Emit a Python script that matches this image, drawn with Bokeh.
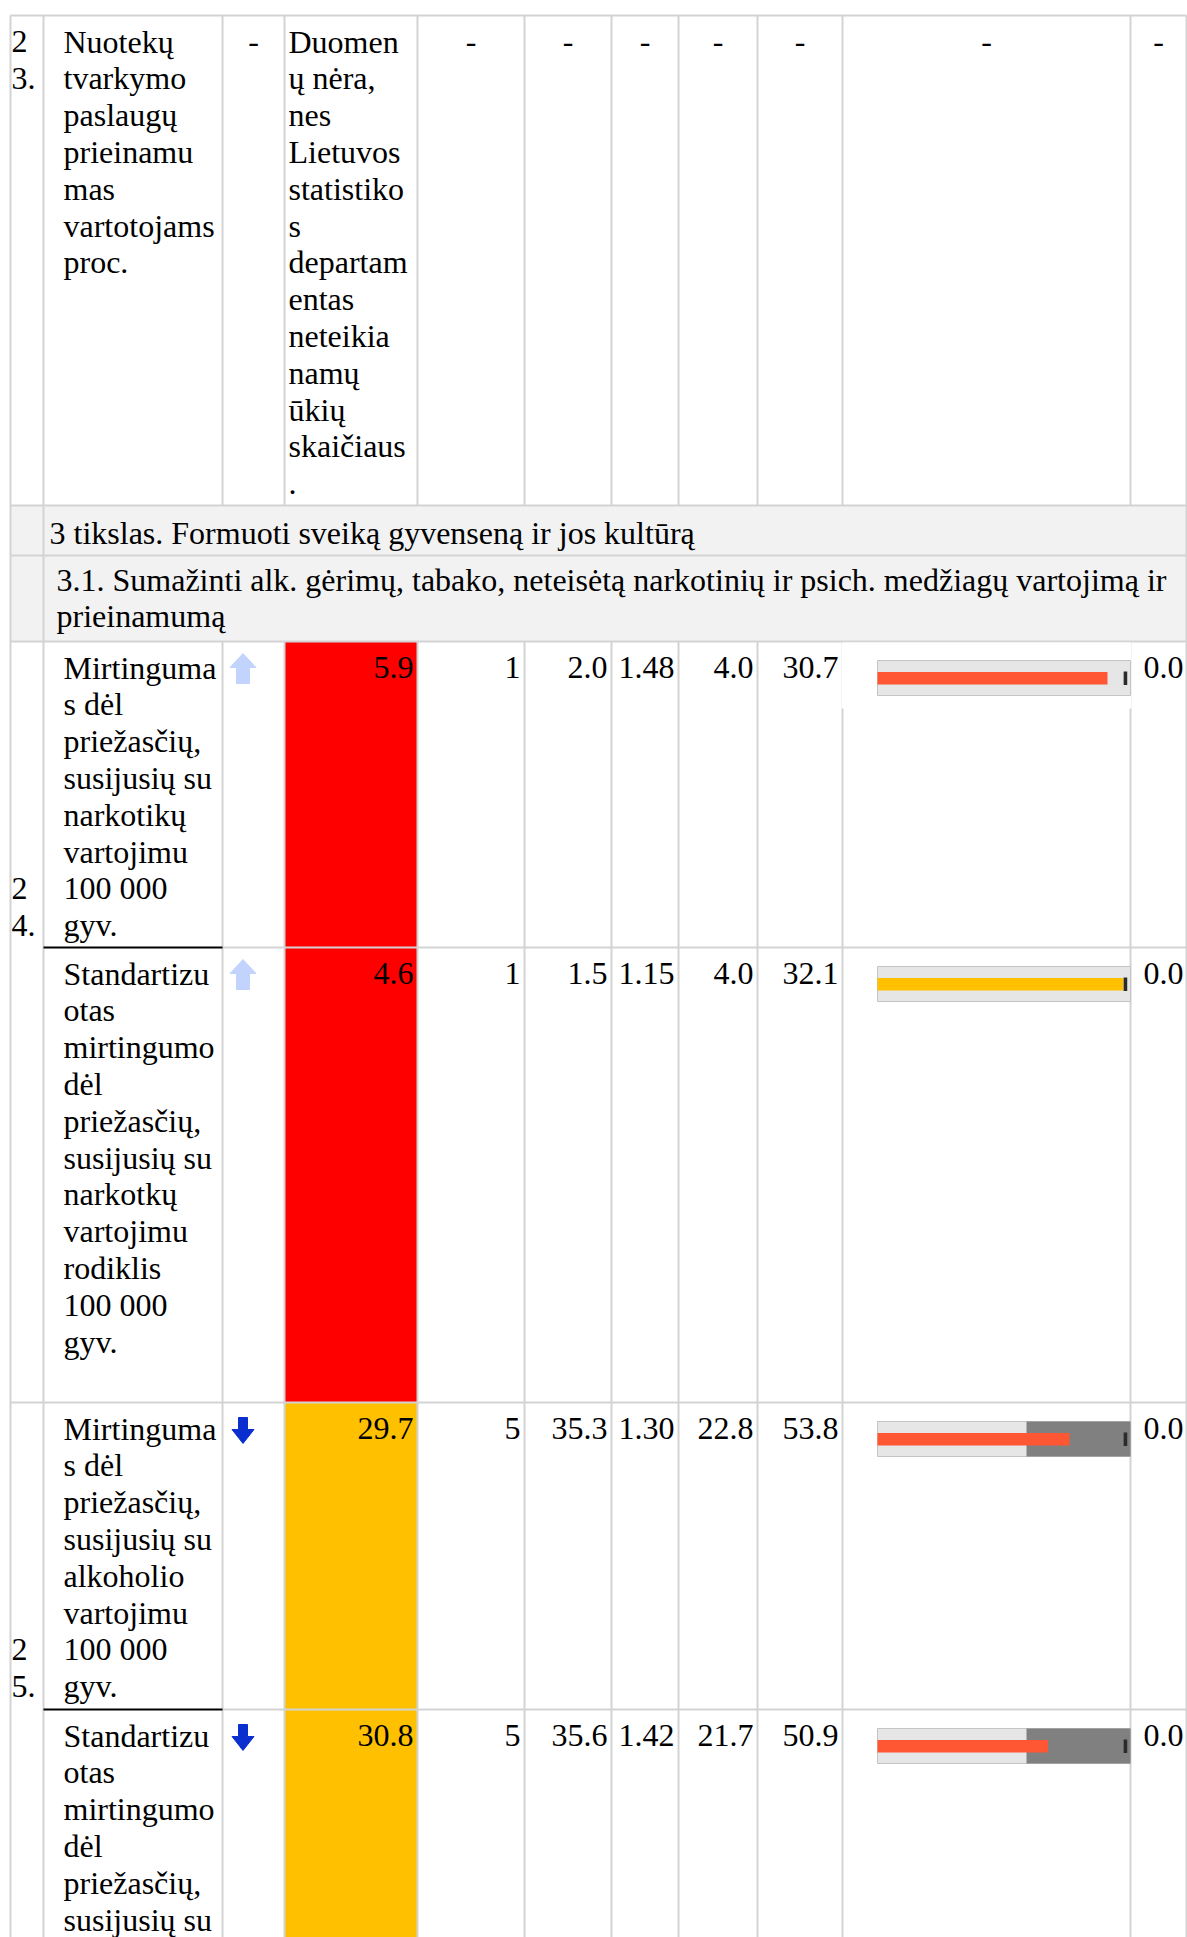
from bokeh.plotting import figure
from bokeh.models import Range1d, ColumnDataSource
from bokeh.core.properties import value
from bokeh.embed import file_html
from bokeh.resources import INLINE

# ---------------- data ----------------
row_numbers = ["23.", "24.", "25."]
r23_name = ["Nuotekų", "tvarkymo", "paslaugų", "prieinamu", "mas", "vartotojams", "proc."]
r23_note = ["Duomen", "ų nėra,", "nes", "Lietuvos", "statistiko", "s", "departam",
            "entas", "neteikia", "namų", "ūkių", "skaičiaus", "."]
goal_title = "3 tikslas. Formuoti sveiką gyvenseną ir jos kultūrą"
task_title = ["3.1. Sumažinti alk. gėrimų, tabako, neteisėtą narkotinių ir psich. medžiagų vartojimą ir",
              "prieinamumą"]
ind_names = [
    ["Mirtinguma", "s dėl", "priežasčių,", "susijusių su", "narkotikų", "vartojimu", "100 000", "gyv."],
    ["Standartizu", "otas", "mirtingumo", "dėl", "priežasčių,", "susijusių su", "narkotkų",
     "vartojimu", "rodiklis", "100 000", "gyv."],
    ["Mirtinguma", "s dėl", "priežasčių,", "susijusių su", "alkoholio", "vartojimu", "100 000", "gyv."],
    ["Standartizu", "otas", "mirtingumo", "dėl", "priežasčių,", "susijusių su"],
]
trend = ["up", "up", "down", "down"]
ind_value = [5.9, 4.6, 29.7, 30.8]
ind_status = ["red", "red", "amber", "amber"]
ind_rank = [1, 1, 5, 5]
lt_average = [2.0, 1.5, 35.3, 35.6]
ratio_to_avg = [1.48, 1.15, 1.30, 1.42]
min_value = [4.0, 4.0, 22.8, 21.7]
max_value = [30.7, 32.1, 53.8, 50.9]
change_value = [0.0, 0.0, 0.0, 0.0]
bullet_bar = [90.9, 97.2, 75.9, 67.4]
bullet_band = [100.0, 100.0, 58.9, 58.9]
bullet_marker = [98.0, 98.0, 98.0, 98.0]
bullet_status = ["red", "amber", "red", "red"]

# ---------------- layout ----------------
W, H = 1187, 1937
FS = "32px"
LH = 36.8
BASE = 26          # first baseline below a row's top line
col_x = [10, 43, 222, 284, 417, 524, 611, 678, 757, 842, 1130, 1186]
row_y = [15, 505, 555, 641, 947, 1402, 1709, 2400]
ind_rows = [3, 4, 5, 6]
GRID = "#d3d3d3"
STATUS_FILL = {"red": "#ff0000", "amber": "#ffc000"}
BAR_FILL = {"red": "#ff5733", "amber": "#ffc000"}

p = figure(width=W, height=H, output_backend="svg", toolbar_location=None,
           x_range=Range1d(0, W), y_range=Range1d(H, 0),
           x_axis_type=None, y_axis_type=None, min_border=0,
           outline_line_color=None, background_fill_color="white",
           border_fill_color="white")

# ---- cell backgrounds ----
p.quad(left=[col_x[0]], right=[col_x[-1]], top=[row_y[1]], bottom=[row_y[3]],
       fill_color="#f2f2f2", line_color=None)
p.quad(left=[col_x[3]] * 4, right=[col_x[4]] * 4,
       top=[row_y[i] for i in ind_rows], bottom=[row_y[i + 1] for i in ind_rows],
       fill_color=[STATUS_FILL[s] for s in ind_status], line_color=None)

# ---- grid lines ----
sx0, sy0, sx1, sy1 = [], [], [], []
def seg(a, b, c, d):
    sx0.append(a); sy0.append(b); sx1.append(c); sy1.append(d)

bottom = row_y[-1]
for y in [row_y[0], row_y[1], row_y[2], row_y[3], row_y[5]]:
    seg(col_x[0], y, col_x[-1], y)
for y in [row_y[4], row_y[6]]:
    seg(col_x[2], y, col_x[-1], y)
for x in [col_x[0], col_x[1], col_x[-1]]:
    seg(x, row_y[0], x, bottom)
for x in col_x[2:-1]:
    seg(x, row_y[0], x, row_y[1])
    seg(x, row_y[3], x, bottom)
p.segment(x0=sx0, y0=sy0, x1=sx1, y1=sy1, line_color=GRID, line_width=2)
p.segment(x0=[col_x[1], col_x[1]], y0=[row_y[4], row_y[6]],
          x1=[col_x[2], col_x[2]], y1=[row_y[4], row_y[6]],
          line_color="black", line_width=2)

# white area of the first bullet image covering the cell borders
p.quad(left=[col_x[9] - 1], right=[col_x[10] + 1], top=[row_y[3] + 1], bottom=[row_y[3] + 67],
       fill_color="white", line_color=None)

# ---- bullet charts ----
bx0, bx1 = 877, col_x[10]
def bscale(v):
    return bx0 + (bx1 - bx0) * v / 100.0

tops = [row_y[i] + 19 for i in ind_rows]
p.quad(left=[bx0] * 4, right=[bx1] * 4, top=tops, bottom=[t + 35 for t in tops],
       fill_color="#e6e6e6", line_color="#c4c4c4", line_width=1)
p.quad(left=[bscale(v) for v in bullet_band], right=[bx1] * 4, top=tops,
       bottom=[t + 35 for t in tops], fill_color="#808080", line_color=None)
p.quad(left=[bx0] * 4, right=[bscale(v) for v in bullet_bar],
       top=[t + 11.5 for t in tops], bottom=[t + 24 for t in tops],
       fill_color=[BAR_FILL[s] for s in bullet_status], line_color=None)
p.quad(left=[bscale(v) - 1.8 for v in bullet_marker], right=[bscale(v) + 1.8 for v in bullet_marker],
       top=[t + 11 for t in tops], bottom=[t + 24.5 for t in tops],
       fill_color="#2b2b2b", line_color=None)

# ---- arrows ----
axs, ays, acol = [], [], []
acx = (col_x[2] + col_x[3]) / 2 - 11
for i, tr in zip(ind_rows, trend):
    top = row_y[i]
    if tr == "up":
        w, h, hh, sw, y0 = 26, 30, 14, 13, top + 12
        xs = [0, w / 2, sw / 2, sw / 2, -sw / 2, -sw / 2, -w / 2]
        ys = [0, hh, hh, h, h, hh, hh]
        acol.append("#c2d4fd")
    else:
        w, h, hh, sw, y0 = 22, 26, 12, 9, top + 15
        xs = [-sw / 2, sw / 2, sw / 2, w / 2, 0, -w / 2, -sw / 2]
        ys = [0, 0, hh, hh, h, hh, hh]
        acol.append("#0b2fcf")
    axs.append([acx + 0.5 + x for x in xs])
    ays.append([y0 + y for y in ys])
p.patches(xs=axs, ys=ays, fill_color=acol, line_color=acol, line_width=1)

# ---- texts ----
L = {"x": [], "y": [], "t": []}
R = {"x": [], "y": [], "t": []}
C = {"x": [], "y": [], "t": []}
def put(d, x, y, t):
    d["x"].append(x); d["y"].append(y); d["t"].append(t)

def lines(d, x, top, items, start=0):
    for k, s in enumerate(items):
        put(d, x, top + BASE + (start + k) * LH, s)

# row 23
lines(L, 11, row_y[0], [row_numbers[0][0], row_numbers[0][1:]])
lines(L, 63, row_y[0], r23_name)
lines(L, 288, row_y[0], r23_note)
for k in [2, 4, 5, 6, 7, 8, 9, 10]:
    put(C, (col_x[k] + col_x[k + 1]) / 2, row_y[0] + BASE, "-")
# goal and task
put(L, 49, row_y[1] + BASE + 1, goal_title)
lines(L, 56, row_y[2] - 2, task_title)
# indicators
for n, i in enumerate(ind_rows):
    top = row_y[i]
    lines(L, 63, top, ind_names[n])
    cells = [f"{ind_value[n]:.1f}", f"{ind_rank[n]}", f"{lt_average[n]:.1f}",
             f"{ratio_to_avg[n]:.2f}", f"{min_value[n]:.1f}", f"{max_value[n]:.1f}"]
    for k, s in zip([3, 4, 5, 6, 7, 8], cells):
        put(R, col_x[k + 1] - 4, top + BASE, s)
    put(R, col_x[11] - 3, top + BASE, f"{change_value[n]:.1f}")
for num, i in zip(row_numbers[1:], [3, 5]):
    lines(L, 11, row_y[i], [num[0], num[1:]], start=6)

common = dict(text_font=value("Liberation Serif"), text_font_size=FS,
              text_color="black", text_baseline="alphabetic")
p.text(x="x", y="y", text="t", source=ColumnDataSource(L), text_align="left", **common)
p.text(x="x", y="y", text="t", source=ColumnDataSource(R), text_align="right", **common)
p.text(x="x", y="y", text="t", source=ColumnDataSource(C), text_align="center", **common)

open("out.html", "w").write(file_html(p, INLINE))
